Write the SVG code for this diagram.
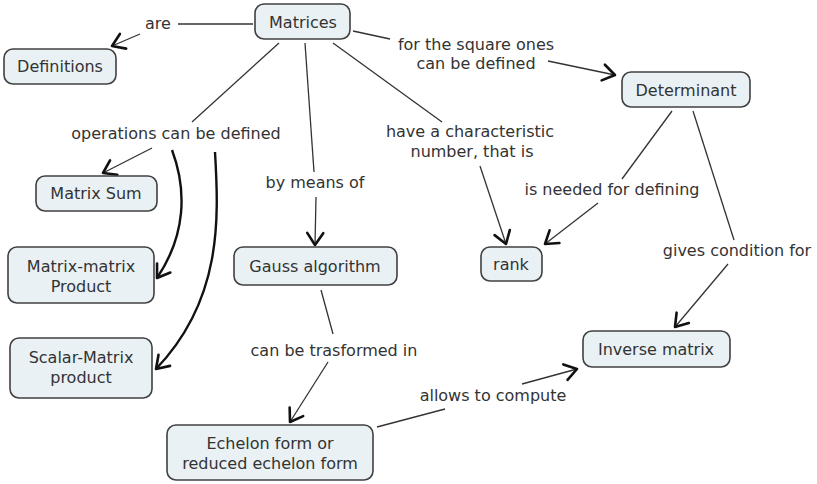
<svg xmlns="http://www.w3.org/2000/svg" width="817" height="484" viewBox="0 0 817 484">
<defs>
<style>
.box{fill:#e9f1f5;stroke:#404040;stroke-width:1.6}
.t{font-family:"DejaVu Sans",Verdana,sans-serif;font-size:16px;fill:#333;text-anchor:middle}
.c{stroke:#333;stroke-width:1.3;fill:none}
.h{stroke:#111;stroke-width:2.4;fill:none}
.a{marker-end:url(#arr)}
</style>
<marker id="arr" markerUnits="userSpaceOnUse" markerWidth="30" markerHeight="30" viewBox="-20 -15 30 30" refX="0" refY="0" orient="auto">
<path d="M-12,-8 L0,0 L-12,8" fill="none" stroke="#111" stroke-width="2.6" stroke-linecap="round" stroke-linejoin="round"/>
</marker>
</defs>
<rect width="817" height="484" fill="#fff"/>
<g id="connectors">
<path class="c" d="M178,24 L253,24"/>
<path class="c a" d="M140,34 L112,46"/>
<path class="c" d="M353,31 L390,39"/>
<path class="c a" d="M548,61 L615,75"/>
<path class="c" d="M279,43 L192,122"/>
<path class="c a" d="M152,148 L103,173"/>
<path class="h a" d="M172,150 C187,190 186,235 157,278"/>
<path class="h a" d="M215,152 C219,220 222,300 156,369"/>
<path class="c" d="M305,43 L314,172"/>
<path class="c a" d="M316,197 L315,245"/>
<path class="c" d="M333,43 L442,122"/>
<path class="c a" d="M480,166 L506,244"/>
<path class="c" d="M672,111 L622,179"/>
<path class="c a" d="M598,203 L545,244"/>
<path class="c" d="M693,111 L734,240"/>
<path class="c a" d="M728,264 L675,327"/>
<path class="c" d="M321,290 L333,334"/>
<path class="c a" d="M328,362 L290,422"/>
<path class="c" d="M377,427 L445,409"/>
<path class="c a" d="M522,384 L577,369"/>
</g>
<g id="labels">
<text class="t" x="158" y="29">are</text>
<text class="t" x="476" y="50">for the square ones</text>
<text class="t" x="476" y="69">can be defined</text>
<text class="t" x="176" y="139">operations can be defined</text>
<text class="t" x="315" y="188">by means of</text>
<text class="t" x="470" y="137">have a characteristic</text>
<text class="t" x="472" y="157">number, that is</text>
<text class="t" x="612" y="195">is needed for defining</text>
<text class="t" x="737" y="256">gives condition for</text>
<text class="t" x="334" y="356">can be trasformed in</text>
<text class="t" x="493" y="401">allows to compute</text>
</g>
<g id="matrices"><rect class="box" x="255" y="4" width="95" height="35" rx="9"/><text class="t" x="303" y="28">Matrices</text></g>
<g id="definitions"><rect class="box" x="4" y="49" width="112" height="35" rx="9"/><text class="t" x="60" y="72">Definitions</text></g>
<g id="determinant"><rect class="box" x="622" y="72" width="128" height="35" rx="9"/><text class="t" x="686" y="96">Determinant</text></g>
<g id="matrix-sum"><rect class="box" x="36" y="176" width="121" height="35" rx="9"/><text class="t" x="96" y="199">Matrix Sum</text></g>
<g id="matrix-matrix-product"><rect class="box" x="8" y="247" width="146" height="56" rx="9"/><text class="t" x="81" y="272">Matrix-matrix</text><text class="t" x="81" y="292">Product</text></g>
<g id="scalar-matrix-product"><rect class="box" x="10" y="338" width="142" height="60" rx="9"/><text class="t" x="81" y="363">Scalar-Matrix</text><text class="t" x="81" y="383">product</text></g>
<g id="gauss"><rect class="box" x="234" y="247" width="163" height="38" rx="9"/><text class="t" x="315" y="272">Gauss algorithm</text></g>
<g id="rank"><rect class="box" x="481" y="247" width="61" height="34" rx="9"/><text class="t" x="511" y="270">rank</text></g>
<g id="inverse"><rect class="box" x="583" y="331" width="147" height="36" rx="9"/><text class="t" x="656" y="355">Inverse matrix</text></g>
<g id="echelon"><rect class="box" x="167" y="425" width="206" height="55" rx="9"/><text class="t" x="270" y="449">Echelon form or</text><text class="t" x="270" y="469">reduced echelon form</text></g>
</svg>
